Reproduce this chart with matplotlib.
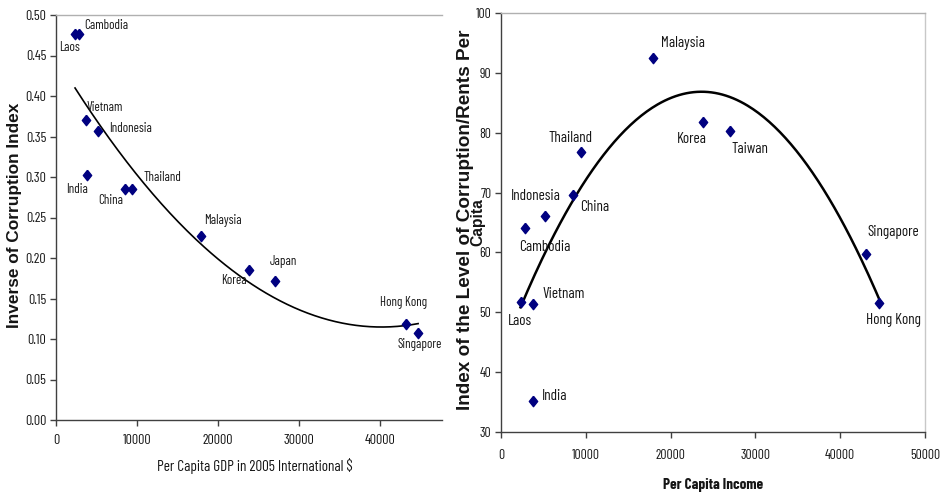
import numpy as np
import matplotlib
matplotlib.use("Agg")
import matplotlib.pyplot as plt

# ---------------- data ----------------
left_countries = ["Laos", "Cambodia", "Vietnam", "Indonesia", "India", "China",
                  "Thailand", "Malaysia", "Korea", "Japan", "Hong Kong", "Singapore"]
left_gdp = [2350, 2850, 3700, 5200, 3830, 8500, 9400, 17900, 23800, 27000, 43200, 44700]
left_index = [0.476, 0.476, 0.370, 0.357, 0.303, 0.285, 0.285, 0.227, 0.185, 0.172, 0.118, 0.107]

right_countries = ["Malaysia", "Korea", "Taiwan", "Thailand", "China", "Indonesia",
                   "Cambodia", "Singapore", "Hong Kong", "Laos", "Vietnam", "India"]
right_income = [17900, 23850, 27000, 9430, 8500, 5230, 2870, 43100, 44600, 2300, 3730, 3810]
right_index = [92.4, 81.8, 80.3, 76.8, 69.6, 66.1, 64.0, 59.7, 51.6, 51.8, 51.4, 35.1]

left_xticks = [0, 10000, 20000, 30000, 40000]
left_yticks = [0.00, 0.05, 0.10, 0.15, 0.20, 0.25, 0.30, 0.35, 0.40, 0.45, 0.50]
right_xticks = [0, 10000, 20000, 30000, 40000, 50000]
right_yticks = [30, 40, 50, 60, 70, 80, 90, 100]

# ---------------- label placement (pixel offsets, ha) ----------------
left_label_pos = {
    "Laos": (5, 13, "right"), "Cambodia": (5, -9, "left"), "Vietnam": (1, -13, "left"),
    "Indonesia": (11, -2, "left"), "India": (1, 15, "right"), "China": (-2, 11, "right"),
    "Thailand": (11, -12, "left"), "Malaysia": (3, -16, "left"), "Korea": (-2, 10, "right"),
    "Japan": (-5, -19, "left"), "Hong Kong": (-2, -22, "center"), "Singapore": (2, 11, "center"),
}
right_label_pos = {
    "Malaysia": (8, -15, "left"), "Korea": (-11, 17, "center"), "Taiwan": (2, 18, "left"),
    "Thailand": (-10, -14, "center"), "China": (7, 12, "left"), "Indonesia": (-10, -20, "center"),
    "Cambodia": (19, 19, "center"), "Singapore": (1, -22, "left"), "Hong Kong": (-13, 17, "left"),
    "Laos": (-1, 19, "center"), "Vietnam": (10, -10, "left"), "India": (9, -5, "left"),
}

NARROW = ["Barlow Condensed", "Roboto Condensed", "Liberation Sans", "DejaVu Sans"]
WIDE = ["Liberation Sans", "DejaVu Sans"]
NAVY = "#000080"
TEXT = "#151515"
TALL_DIAMOND = [(0, 1), (0.8, 0), (0, -1), (-0.8, 0), (0, 1)]

W, H = 942, 495
fig = plt.figure(figsize=(W / 100, H / 100), dpi=100)
fig.patch.set_facecolor("white")
renderer = fig.canvas.get_renderer()


def size_for(sample, target_px, family=NARROW, weight="normal"):
    t = fig.text(0, 0, sample, family=family, fontsize=10, fontweight=weight)
    w = t.get_window_extent(renderer=renderer).width
    t.remove()
    return 10 * target_px / w


def ax_rect(x0, y0, x1, y1):
    return [x0 / W, 1 - y1 / H, (x1 - x0) / W, (y1 - y0) / H]


def style_axes(ax, right_visible):
    for s in ["left", "bottom"]:
        ax.spines[s].set_color("#404040")
        ax.spines[s].set_linewidth(1.0)
    ax.spines["top"].set_color("#b0b0b0")
    ax.spines["top"].set_linewidth(1.0)
    if right_visible:
        ax.spines["right"].set_color("#c8c8c8")
        ax.spines["right"].set_linewidth(1.0)
    else:
        ax.spines["right"].set_visible(False)
    ax.tick_params(direction="out", length=4, width=1, color="#404040",
                   top=False, right=False, labelcolor=TEXT)


def fit_length(txt, target_px, vertical):
    bb = txt.get_window_extent(renderer=renderer)
    cur = bb.height if vertical else bb.width
    txt.set_fontsize(txt.get_fontsize() * target_px / cur)


# measured widths in the reference (pixels)
fs_ltick = size_for("40000", 31)
fs_rtick = size_for("50000", 30)
fs_llab = size_for("Cambodia", 44)
fs_rlab = size_for("Singapore", 52)

# ---------------- left panel ----------------
ax1 = fig.add_axes(ax_rect(56, 15, 442, 420))
style_axes(ax1, False)
ax1.set_xlim(0, 47650)
ax1.set_ylim(0, 0.5)
ax1.set_xticks(left_xticks)
ax1.set_xticklabels([str(v) for v in left_xticks], family=NARROW, fontsize=fs_ltick)
ax1.set_yticks(left_yticks)
ax1.set_yticklabels([f"{v:.2f}" for v in left_yticks], family=NARROW, fontsize=fs_ltick)
ax1.tick_params(axis="x", pad=6)
ax1.tick_params(axis="y", pad=3)

c1 = np.polyfit(left_gdp, left_index, 2)
xs1 = np.linspace(min(left_gdp), max(left_gdp), 200)
ax1.plot(xs1, np.polyval(c1, xs1), color="black", lw=1.2, zorder=2)
ax1.plot(left_gdp, left_index, linestyle="none", marker=TALL_DIAMOND, markersize=7.5,
         color=NAVY, zorder=3)
for name, x, y in zip(left_countries, left_gdp, left_index):
    dx, dy, ha = left_label_pos[name]
    ax1.annotate(name, (x, y), xytext=(dx, -dy), textcoords="offset pixels",
                 ha=ha, va="center", family=NARROW, fontsize=fs_llab, color=TEXT)
xl1 = ax1.set_xlabel("Per Capita GDP in 2005 International $", family=NARROW,
                     fontsize=11, color=TEXT)
ax1.xaxis.set_label_coords((255 - 56) / 386, (420 - 466) / 405)
xl1.set_va("center")
yl1 = ax1.set_ylabel("Inverse of Corruption Index", family=WIDE, fontsize=11,
                     fontweight="bold", color=TEXT)
ax1.yaxis.set_label_coords((15 - 56) / 386, (420 - 215) / 405)
yl1.set_va("center")

# ---------------- right panel ----------------
ax2 = fig.add_axes(ax_rect(501, 13, 925, 432))
style_axes(ax2, True)
ax2.set_xlim(0, 50000)
ax2.set_ylim(30, 100)
ax2.set_xticks(right_xticks)
ax2.set_xticklabels([str(v) for v in right_xticks], family=NARROW, fontsize=fs_rtick)
ax2.set_yticks(right_yticks)
ax2.set_yticklabels([str(v) for v in right_yticks], family=NARROW, fontsize=fs_rtick)
ax2.tick_params(axis="x", pad=8)
ax2.tick_params(axis="y", pad=3)

c2 = np.polyfit(right_income, right_index, 2)
xs2 = np.linspace(min(right_income), max(right_income), 200)
ax2.plot(xs2, np.polyval(c2, xs2), color="black", lw=1.8, zorder=2)
ax2.plot(right_income, right_index, linestyle="none", marker=TALL_DIAMOND, markersize=7.5,
         color=NAVY, zorder=3)
for name, x, y in zip(right_countries, right_income, right_index):
    dx, dy, ha = right_label_pos[name]
    ax2.annotate(name, (x, y), xytext=(dx, -dy), textcoords="offset pixels",
                 ha=ha, va="center", family=NARROW, fontsize=fs_rlab, color=TEXT)
xl2 = ax2.set_xlabel("Per Capita Income", family=NARROW, fontsize=12,
                     fontweight="bold", color=TEXT)
ax2.xaxis.set_label_coords((713 - 501) / 424, (432 - 485) / 419)
xl2.set_va("center")
yl2 = ax2.set_ylabel("Index of the Level of Corruption/Rents Per", family=WIDE,
                     fontsize=12, fontweight="bold", color=TEXT)
ax2.yaxis.set_label_coords((465 - 501) / 424, (432 - 220) / 419)
yl2.set_va("center")
cap = ax2.text((478 - 501) / 424, (432 - 222) / 419, "Capita", transform=ax2.transAxes,
               rotation=90, ha="center", va="center", family=WIDE, fontsize=11,
               fontweight="bold", color=TEXT)

# match measured text lengths of the reference
fit_length(yl1, 226, True)
fit_length(yl2, 380, True)
fit_length(cap, 48, True)
fit_length(xl1, 196, False)
fit_length(xl2, 100, False)

fig.savefig("out.png", dpi=100)
